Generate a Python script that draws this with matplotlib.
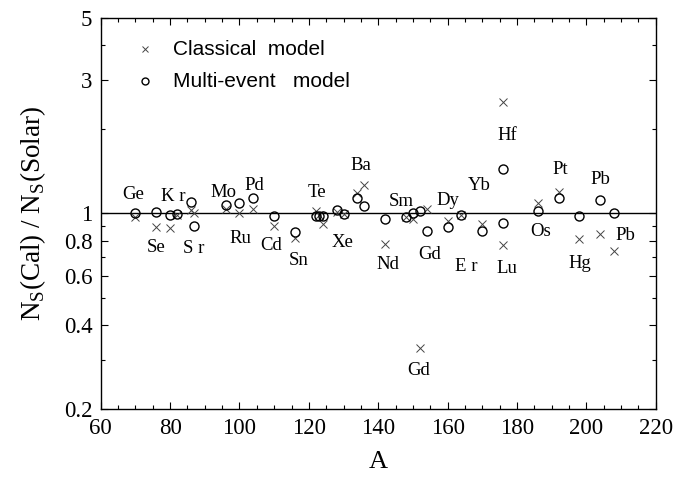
import matplotlib.pyplot as plt
from matplotlib.ticker import FixedLocator, NullFormatter

# s-only isotopes: mass number A
mass = [70, 76, 80, 82, 86, 87, 96, 100, 104, 110, 116, 122, 123, 124, 128, 130,
        134, 136, 142, 148, 150, 152, 154, 160, 164, 170, 176, 176, 186, 192,
        198, 204, 208]

# N_s(Cal) / N_s(Solar)
classical = [0.972, 0.891, 0.889, 0.99, 1.03, 1.0, 1.033, 1.005, 1.033, 0.90,
             0.814, 1.019, 0.99, 0.916, 1.013, 0.994, 1.184, 1.262, 0.777,
             0.972, 0.952, 0.331, 1.033, 0.937, 0.986, 0.915, 0.771, 2.49,
             1.086, 1.195, 0.808, 0.843, 0.735]
multi = [1.005, 1.013, 0.986, 0.994, 1.10, 0.90, 1.07, 1.086, 1.131, 0.978,
         0.855, 0.98, 0.98, 0.98, 1.027, 0.994, 1.131, 1.064, 0.952, 0.972,
         1.0, 1.021, 0.864, 0.898, 0.986, 0.867, 0.926, 1.436, 1.021, 1.131,
         0.98, 1.116, 1.0]

elements = ['Ge', 'Se', 'K r', 'S r', 'Mo', 'Ru', 'Pd', 'Cd', 'Sn', 'Te', 'Xe',
            'Ba', 'Nd', 'Sm', 'Gd', 'Gd', 'Dy', 'E r', 'Yb', 'Hf', 'Lu', 'Os',
            'Pt', 'Hg', 'Pb', 'Pb']
label_xy = [(69.4, 1.172), (75.9, 0.754), (80.8, 1.153), (86.7, 0.75),
            (95.3, 1.185), (100.4, 0.814), (104.2, 1.262), (109.1, 0.771),
            (117.0, 0.681), (122.3, 1.185), (129.8, 0.785), (135.0, 1.488),
            (142.7, 0.659), (146.6, 1.10), (154.7, 0.716), (151.6, 0.274),
            (160.2, 1.116), (165.5, 0.645), (169.0, 1.262), (177.2, 1.904),
            (177.0, 0.636), (186.8, 0.86), (192.6, 1.436), (198.2, 0.663),
            (204.1, 1.322), (211.3, 0.837)]

serif = 'Liberation Serif'
x_style = dict(ls='none', marker='x', mew=0.7, color='#444444')
o_style = dict(ls='none', marker='o', mew=1.0, mfc='none', mec='black')

fig = plt.figure(figsize=(6.76, 4.78), dpi=100)
ax = fig.add_axes([0.149, 0.144, 0.821, 0.819])

ax.axhline(1.0, color='black', lw=1.0, zorder=1)

ax.plot(mass, classical, ms=5.5, zorder=3, **x_style)
ax.plot(mass, multi, ms=6.5, zorder=3, **o_style)

for name, (xa, ya) in zip(elements, label_xy):
    ax.text(xa, ya, name, ha='center', va='center', fontsize=13.5,
            family=serif)

# key in the upper left corner
ax.plot([0.08], [0.919], ms=5, transform=ax.transAxes, clip_on=False,
        **x_style)
ax.plot([0.08], [0.838], ms=5, transform=ax.transAxes, clip_on=False,
        **o_style)
ax.text(0.131, 0.919, 'Classical  model', transform=ax.transAxes,
        va='center', ha='left', fontsize=15, family='Liberation Sans')
ax.text(0.131, 0.838, 'Multi-event   model', transform=ax.transAxes,
        va='center', ha='left', fontsize=15, family='Liberation Sans')

ax.set_yscale('log')
ax.set_xlim(60, 220)
ax.set_ylim(0.2, 5)

ax.xaxis.set_major_locator(FixedLocator(range(60, 221, 20)))
ax.xaxis.set_minor_locator(FixedLocator(range(60, 221, 5)))
ax.yaxis.set_major_locator(FixedLocator([0.2, 0.4, 0.6, 0.8, 1, 3, 5]))
ax.yaxis.set_minor_locator(FixedLocator([0.3, 0.5, 0.7, 0.9, 2, 4]))
ax.yaxis.set_minor_formatter(NullFormatter())
ax.set_yticklabels(['0.2', '0.4', '0.6', '0.8', '1', '3', '5'])

ax.tick_params(which='both', direction='in', top=True, right=True,
               width=0.8, labelsize=16.5)
ax.tick_params(which='major', length=5, pad=6)
ax.tick_params(which='minor', length=3)
for lab in ax.get_xticklabels() + ax.get_yticklabels():
    lab.set_family(serif)
for sp in ax.spines.values():
    sp.set_linewidth(1.0)

ax.set_xlabel('A', fontsize=19, family=serif, labelpad=9)
ax.set_ylabel(r'N$_\mathregular{S}$(Cal) / N$_\mathregular{S}$(Solar)',
              fontsize=19.5, family=serif, labelpad=11)

fig.savefig('out.png', dpi=100)
